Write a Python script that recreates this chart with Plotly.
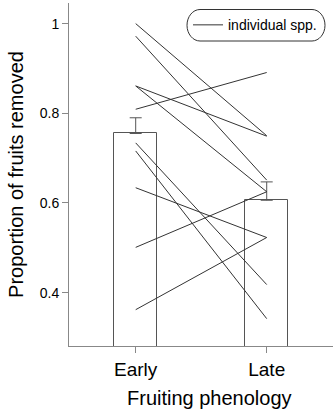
import plotly.graph_objects as go

# ---- data ----
categories = ["Early", "Late"]
bar_means = [0.755, 0.606]
bar_se = [0.035, 0.041]

species_early = [1.000, 0.972, 0.861, 0.861, 0.809, 0.734, 0.716, 0.634, 0.501, 0.362]
species_late = [0.750, 0.651, 0.749, 0.625, 0.891, 0.418, 0.342, 0.523, 0.625, 0.523]

y_ticks = [0.4, 0.6, 0.8, 1.0]
y_tick_labels = ["0.4", "0.6", "0.8", "1"]

FONT = "Liberation Sans, Arial, sans-serif"
W, H = 333, 413
ML, MR, MT, MB = 69, 0, 3, 67

fig = go.Figure()

fig.add_trace(go.Bar(
    x=[0, 1], y=bar_means, width=0.33,
    marker=dict(color="white", line=dict(color="#555555", width=1)),
    error_y=dict(type="data", array=bar_se, arrayminus=[0, 0], symmetric=False,
                 color="#555555", thickness=1, width=6),
    showlegend=False, hoverinfo="skip",
))

for i, (e, l) in enumerate(zip(species_early, species_late)):
    fig.add_trace(go.Scatter(
        x=[0, 1], y=[e, l], mode="lines",
        line=dict(color="#333333", width=1),
        name="individual spp.", showlegend=(i == 0),
    ))

# rounded legend frame (pixel -> paper)
def px(x):
    return (x - ML) / (W - ML - MR)

def py(y):
    return (H - MB - y) / (H - MB - MT)

L, R, T, B = 187, 325, 9.5, 41
rx = 13
mid = (T + B) / 2
k = 0.55
path = (
    f"M {px(L+rx)},{py(T)} L {px(R-rx)},{py(T)} "
    f"C {px(R-rx+rx*k)},{py(T)} {px(R)},{py(mid-(mid-T)*k)} {px(R)},{py(mid)} "
    f"C {px(R)},{py(mid+(B-mid)*k)} {px(R-rx+rx*k)},{py(B)} {px(R-rx)},{py(B)} "
    f"L {px(L+rx)},{py(B)} "
    f"C {px(L+rx-rx*k)},{py(B)} {px(L)},{py(mid+(B-mid)*k)} {px(L)},{py(mid)} "
    f"C {px(L)},{py(mid-(mid-T)*k)} {px(L+rx-rx*k)},{py(T)} {px(L+rx)},{py(T)} Z"
)
fig.add_shape(type="path", path=path, xref="paper", yref="paper",
              line=dict(color="#333333", width=1), fillcolor="rgba(0,0,0,0)")

fig.add_annotation(text="Fruiting phenology", xref="paper", yref="paper",
                   x=px(209), y=py(398), xanchor="center", yanchor="middle",
                   showarrow=False, font=dict(size=20, family=FONT, color="black"))

fig.update_layout(
    width=W, height=H,
    margin=dict(l=ML, r=MR, t=MT, b=MB),
    plot_bgcolor="white", paper_bgcolor="white",
    font=dict(family=FONT, color="black"),
    bargap=0,
    legend=dict(x=px(188), y=py(mid), xanchor="left", yanchor="middle",
                bgcolor="rgba(0,0,0,0)", borderwidth=0,
                font=dict(size=14, family=FONT)),
    xaxis=dict(
        range=[-0.509, 1.506], tickvals=[0, 1], ticktext=categories,
        showline=True, linecolor="#888888", linewidth=1,
        ticks="outside", ticklen=6, tickcolor="#888888",
        showgrid=False, zeroline=False,
        tickfont=dict(size=19),
    ),
    yaxis=dict(
        range=[0.281, 1.046], tickvals=y_ticks, ticktext=y_tick_labels,
        showline=True, linecolor="#888888", linewidth=1,
        ticks="outside", ticklen=6, tickcolor="#888888",
        showgrid=False, zeroline=False,
        tickfont=dict(size=14),
        title=dict(text="Proportion of fruits removed", font=dict(size=20), standoff=10),
    ),
)

fig.write_html("out.html")
